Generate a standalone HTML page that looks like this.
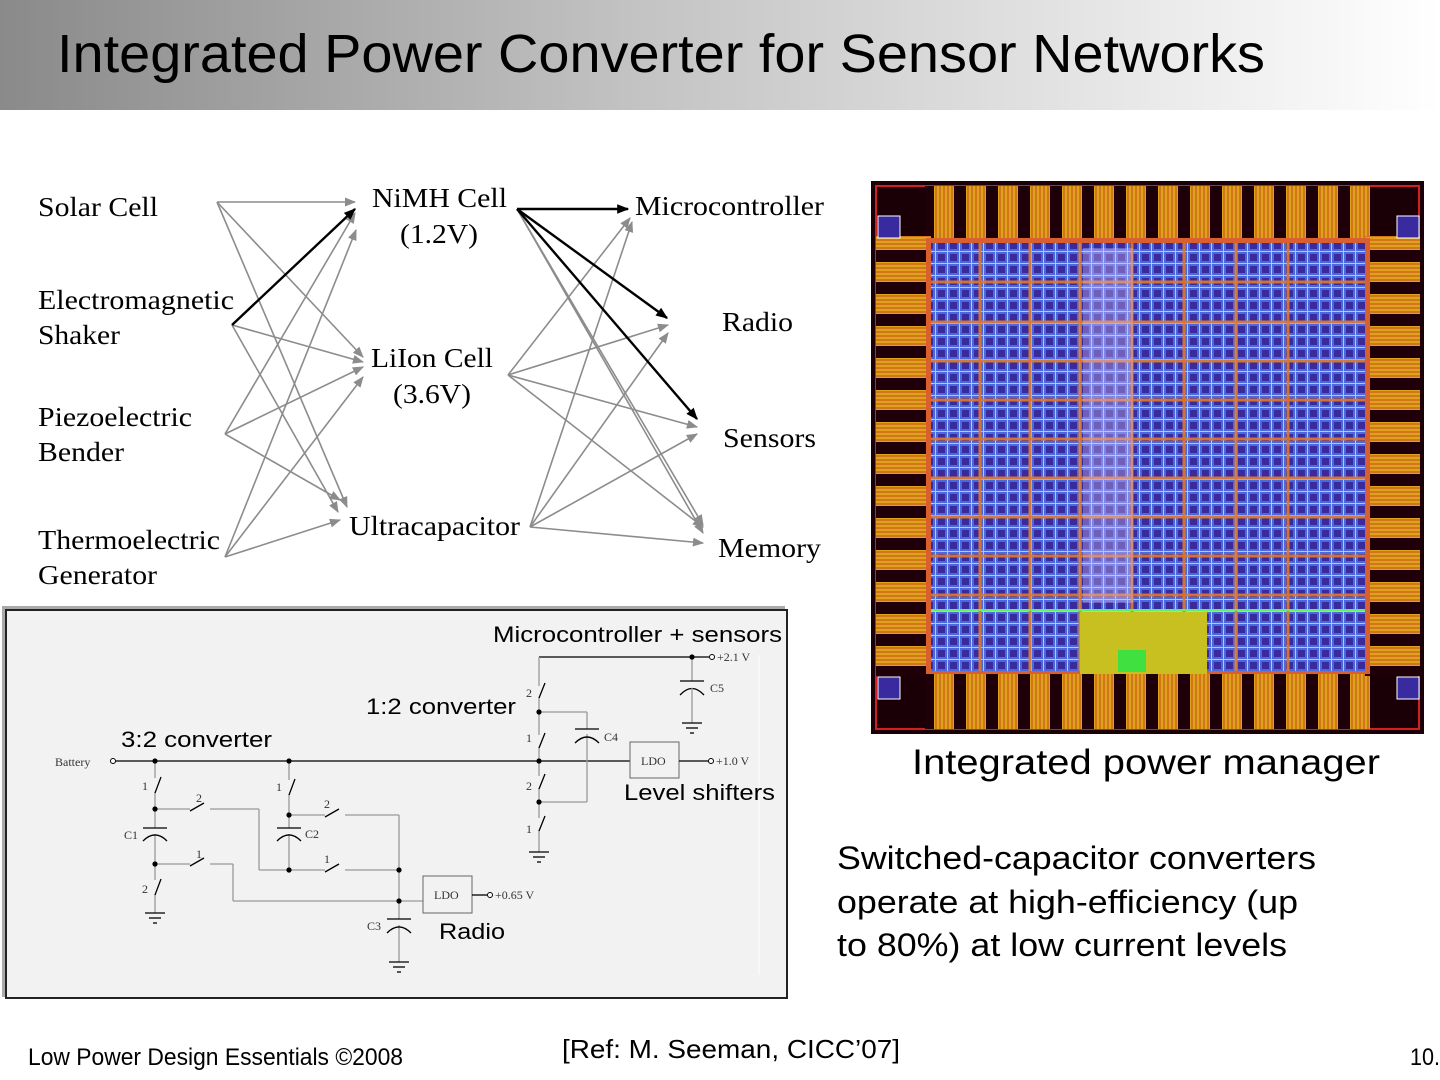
<!DOCTYPE html>
<html><head><meta charset="utf-8"><style>
html,body{margin:0;padding:0;background:#fff;}
svg{display:block}
.serif{font-family:"Liberation Serif",serif;font-size:27px;fill:#000}
.sans{font-family:"Liberation Sans",sans-serif;fill:#000}
.g{stroke:#8c8c8c;stroke-width:1.6;fill:none}
.b{stroke:#000;stroke-width:2.4;fill:none}
.w{stroke:#000;stroke-width:1.3;fill:none}
.wg{stroke:#999;stroke-width:1.3;fill:none}
.sm{font-family:"Liberation Serif",serif;font-size:12px;fill:#333}
</style></head><body>
<svg width="1440" height="1080" viewBox="0 0 1440 1080" xmlns="http://www.w3.org/2000/svg">
<defs>
<linearGradient id="hg" x1="0" x2="1" y1="0" y2="0">
<stop offset="0" stop-color="#8a8a8a"/><stop offset="0.45" stop-color="#c4c4c4"/><stop offset="1" stop-color="#ffffff"/>
</linearGradient>
<marker id="ag" viewBox="0 0 10 10" refX="9" refY="5" markerWidth="7" markerHeight="7" orient="auto"><path d="M0,1 L10,5 L0,9 z" fill="#8c8c8c"/></marker>
<marker id="ab" viewBox="0 0 10 10" refX="9" refY="5" markerWidth="5" markerHeight="5" orient="auto"><path d="M0,1 L10,5 L0,9 z" fill="#000"/></marker>
<pattern id="cells" width="12" height="12" patternUnits="userSpaceOnUse">
<rect width="12" height="12" fill="#4a68e0"/><rect x="2" y="2" width="7" height="7" fill="#3a2a9a"/><path d="M0 11.5H12M11.5 0V12" stroke="#9fd0ff" stroke-width="1"/>
</pattern>
<pattern id="pads" width="32" height="40" patternUnits="userSpaceOnUse">
<rect width="32" height="40" fill="#200008"/><rect x="6" y="0" width="20" height="40" fill="#e0a020"/><path d="M8 0V40M12 0V40M16 0V40M20 0V40M24 0V40" stroke="#c05010" stroke-width="1"/>
</pattern>
<pattern id="padsV" width="40" height="32" patternUnits="userSpaceOnUse">
<rect width="40" height="32" fill="#200008"/><rect x="0" y="6" width="40" height="20" fill="#e0a020"/><path d="M0 8H40M0 12H40M0 16H40M0 20H40M0 24H40" stroke="#c05010" stroke-width="1"/>
</pattern>
</defs>

<rect x="0" y="0" width="1440" height="110" fill="url(#hg)"/>
<text x="57" y="72" class="sans" font-size="54" textLength="1208" lengthAdjust="spacingAndGlyphs">Integrated Power Converter for Sensor Networks</text>

<text x="38" y="216" class="serif" textLength="120" lengthAdjust="spacingAndGlyphs">Solar Cell</text>
<text x="38" y="309" class="serif" textLength="196" lengthAdjust="spacingAndGlyphs">Electromagnetic</text>
<text x="38" y="344" class="serif" textLength="82" lengthAdjust="spacingAndGlyphs">Shaker</text>
<text x="38" y="426" class="serif" textLength="154" lengthAdjust="spacingAndGlyphs">Piezoelectric</text>
<text x="38" y="461" class="serif" textLength="86" lengthAdjust="spacingAndGlyphs">Bender</text>
<text x="38" y="549" class="serif" textLength="182" lengthAdjust="spacingAndGlyphs">Thermoelectric</text>
<text x="38" y="584" class="serif" textLength="119" lengthAdjust="spacingAndGlyphs">Generator</text>
<text x="372" y="207" class="serif" textLength="135" lengthAdjust="spacingAndGlyphs">NiMH Cell</text>
<text x="400" y="243" class="serif" textLength="78" lengthAdjust="spacingAndGlyphs">(1.2V)</text>
<text x="371" y="367" class="serif" textLength="122" lengthAdjust="spacingAndGlyphs">LiIon Cell</text>
<text x="393" y="403" class="serif" textLength="78" lengthAdjust="spacingAndGlyphs">(3.6V)</text>
<text x="349" y="535" class="serif" textLength="171" lengthAdjust="spacingAndGlyphs">Ultracapacitor</text>
<text x="635" y="215" class="serif" textLength="189" lengthAdjust="spacingAndGlyphs">Microcontroller</text>
<text x="722" y="331" class="serif" textLength="71" lengthAdjust="spacingAndGlyphs">Radio</text>
<text x="723" y="447" class="serif" textLength="93" lengthAdjust="spacingAndGlyphs">Sensors</text>
<text x="718" y="557" class="serif" textLength="103" lengthAdjust="spacingAndGlyphs">Memory</text>

<g class="g" marker-end="url(#ag)">
<line x1="217" y1="202" x2="355" y2="202"/>
<line x1="217" y1="202" x2="363" y2="357"/>
<line x1="217" y1="202" x2="347" y2="507"/>
<line x1="232" y1="325" x2="363" y2="362"/>
<line x1="232" y1="325" x2="338" y2="512"/>
<line x1="225" y1="434" x2="355" y2="213"/>
<line x1="225" y1="434" x2="363" y2="367"/>
<line x1="225" y1="434" x2="340" y2="500"/>
<line x1="225" y1="557" x2="356" y2="230"/>
<line x1="225" y1="557" x2="363" y2="377"/>
<line x1="225" y1="557" x2="340" y2="520"/>
</g>
<line x1="232" y1="325" x2="355" y2="209" class="b" marker-end="url(#ab)"/>
<g class="g" marker-end="url(#ag)">
<line x1="517" y1="209" x2="703" y2="525"/>
<line x1="517" y1="209" x2="703" y2="533"/>
<line x1="508" y1="375" x2="630" y2="218"/>
<line x1="508" y1="375" x2="668" y2="325"/>
<line x1="508" y1="375" x2="697" y2="427"/>
<line x1="508" y1="375" x2="703" y2="527"/>
<line x1="530" y1="527" x2="632" y2="222"/>
<line x1="530" y1="527" x2="668" y2="333"/>
<line x1="530" y1="527" x2="697" y2="434"/>
<line x1="530" y1="527" x2="703" y2="543"/>
</g>
<g class="b" marker-end="url(#ab)">
<line x1="517" y1="209" x2="628" y2="209"/>
<line x1="517" y1="209" x2="667" y2="318"/>
<line x1="517" y1="209" x2="697" y2="419"/>
</g>

<rect x="2" y="606" width="783" height="391" fill="#aaa"/>
<rect x="6" y="610" width="781" height="388" fill="#f2f2f2" stroke="#222" stroke-width="2"/>
<line x1="759" y1="655" x2="759" y2="975" stroke="#fff" stroke-width="1"/>

<text x="493" y="642" class="sans" font-size="22" textLength="289" lengthAdjust="spacingAndGlyphs">Microcontroller + sensors</text>
<text x="366" y="714" class="sans" font-size="22" textLength="150" lengthAdjust="spacingAndGlyphs">1:2 converter</text>
<text x="121" y="747" class="sans" font-size="22" textLength="151" lengthAdjust="spacingAndGlyphs">3:2 converter</text>
<text x="624" y="800" class="sans" font-size="22" textLength="151" lengthAdjust="spacingAndGlyphs">Level shifters</text>
<text x="439" y="939" class="sans" font-size="22" textLength="66" lengthAdjust="spacingAndGlyphs">Radio</text>

<text x="55" y="766" class="sm" font-size="11">Battery</text>
<circle cx="113" cy="761" r="2.5" fill="#fff" stroke="#000"/>
<line x1="116" y1="761" x2="630" y2="761" class="w"/>
<rect x="630" y="742" width="49" height="36" fill="#f2f2f2" stroke="#666"/>
<text x="641" y="765" class="sm">LDO</text>
<line x1="679" y1="761" x2="708" y2="761" class="w"/>
<circle cx="711" cy="761" r="2.5" fill="#fff" stroke="#000"/>
<text x="716" y="765" class="sm">+1.0 V</text>

<line x1="539" y1="657" x2="709" y2="657" class="w"/>
<circle cx="712" cy="657" r="2.5" fill="#fff" stroke="#000"/>
<text x="717" y="661" class="sm">+2.1 V</text>
<line x1="692" y1="657" x2="692" y2="681" class="wg"/>
<line x1="680" y1="681" x2="704" y2="681" class="w"/>
<path d="M680 695 Q692 682 704 695" class="w"/>
<line x1="692" y1="688" x2="692" y2="723" class="wg"/>
<line x1="682" y1="723" x2="702" y2="723" class="w"/><line x1="686" y1="728" x2="698" y2="728" class="w"/><line x1="690" y1="733" x2="694" y2="733" class="w"/>
<text x="710" y="692" class="sm">C5</text>

<g class="wg">
<line x1="539" y1="657" x2="539" y2="686"/><line x1="539" y1="697" x2="539" y2="712"/>
<line x1="539" y1="712" x2="539" y2="735"/><line x1="539" y1="747" x2="539" y2="761"/>
<line x1="539" y1="761" x2="539" y2="776"/><line x1="539" y1="788" x2="539" y2="802"/>
<line x1="539" y1="802" x2="539" y2="818"/><line x1="539" y1="830" x2="539" y2="852"/>
<line x1="539" y1="712" x2="587" y2="712"/><line x1="587" y1="712" x2="587" y2="729"/>
<line x1="587" y1="734" x2="587" y2="802"/><line x1="587" y1="802" x2="539" y2="802"/>
</g>
<g class="w">
<line x1="539" y1="698" x2="545" y2="683"/><line x1="539" y1="748" x2="545" y2="733"/>
<line x1="539" y1="789" x2="545" y2="774"/><line x1="539" y1="831" x2="545" y2="816"/>
<line x1="575" y1="729" x2="599" y2="729"/><path d="M575 743 Q587 731 599 743"/>
<line x1="529" y1="852" x2="549" y2="852"/><line x1="533" y1="857" x2="545" y2="857"/><line x1="537" y1="862" x2="541" y2="862"/>
</g>
<text x="526" y="697" class="sm">2</text><text x="526" y="742" class="sm">1</text><text x="526" y="790" class="sm">2</text><text x="526" y="833" class="sm">1</text>
<text x="604" y="741" class="sm">C4</text>
<g fill="#000"><circle cx="539" cy="712" r="2.6"/><circle cx="539" cy="761" r="2.6"/><circle cx="539" cy="802" r="2.6"/><circle cx="692" cy="657" r="2.6"/></g>

<g class="wg">
<line x1="155" y1="761" x2="155" y2="778"/><line x1="155" y1="792" x2="155" y2="828"/>
<line x1="155" y1="834" x2="155" y2="880"/><line x1="155" y1="894" x2="155" y2="913"/>
<line x1="155" y1="809" x2="190" y2="809"/><line x1="210" y1="809" x2="259" y2="809"/>
<line x1="259" y1="809" x2="259" y2="870"/><line x1="259" y1="870" x2="325" y2="870"/>
<line x1="345" y1="870" x2="399" y2="870"/>
<line x1="155" y1="864" x2="190" y2="864"/><line x1="210" y1="864" x2="233" y2="864"/>
<line x1="233" y1="864" x2="233" y2="901"/><line x1="233" y1="901" x2="423" y2="901"/>
</g>
<g class="w">
<line x1="155" y1="793" x2="161" y2="777"/><line x1="155" y1="895" x2="161" y2="879"/>
<line x1="190" y1="811" x2="204" y2="803"/><line x1="190" y1="866" x2="204" y2="858"/>
<line x1="143" y1="828" x2="167" y2="828"/><path d="M143 841 Q155 829 167 841"/>
<line x1="145" y1="913" x2="165" y2="913"/><line x1="149" y1="918" x2="161" y2="918"/><line x1="153" y1="923" x2="157" y2="923"/>
</g>
<text x="142" y="790" class="sm">1</text><text x="142" y="893" class="sm">2</text>
<text x="196" y="802" class="sm">2</text><text x="196" y="858" class="sm">1</text>
<text x="124" y="839" class="sm">C1</text>

<g class="wg">
<line x1="289" y1="761" x2="289" y2="780"/><line x1="289" y1="794" x2="289" y2="828"/>
<line x1="289" y1="834" x2="289" y2="870"/>
<line x1="289" y1="815" x2="325" y2="815"/><line x1="345" y1="815" x2="399" y2="815"/>
<line x1="399" y1="815" x2="399" y2="919"/><line x1="399" y1="925" x2="399" y2="962"/>
</g>
<g class="w">
<line x1="289" y1="795" x2="295" y2="779"/>
<line x1="325" y1="817" x2="339" y2="809"/><line x1="325" y1="872" x2="339" y2="864"/>
<line x1="277" y1="828" x2="301" y2="828"/><path d="M277 841 Q289 829 301 841"/>
<line x1="387" y1="919" x2="411" y2="919"/><path d="M387 933 Q399 921 411 933"/>
<line x1="389" y1="962" x2="409" y2="962"/><line x1="393" y1="967" x2="405" y2="967"/><line x1="397" y1="972" x2="401" y2="972"/>
</g>
<text x="276" y="791" class="sm">1</text><text x="324" y="808" class="sm">2</text><text x="324" y="863" class="sm">1</text>
<text x="305" y="838" class="sm">C2</text><text x="367" y="930" class="sm">C3</text>
<g fill="#000"><circle cx="155" cy="761" r="2.6"/><circle cx="289" cy="761" r="2.6"/><circle cx="155" cy="809" r="2.6"/><circle cx="155" cy="864" r="2.6"/><circle cx="289" cy="815" r="2.6"/><circle cx="289" cy="870" r="2.6"/><circle cx="399" cy="870" r="2.6"/><circle cx="399" cy="901" r="2.6"/></g>
<rect x="423" y="876" width="49" height="37" fill="#f2f2f2" stroke="#666"/>
<text x="434" y="899" class="sm">LDO</text>
<line x1="472" y1="895" x2="487" y2="895" class="w"/>
<circle cx="490" cy="895" r="2.5" fill="#fff" stroke="#000"/>
<text x="495" y="899" class="sm">+0.65 V</text>

<rect x="871" y="181" width="553" height="553" fill="#1a0006"/>
<rect x="876" y="186" width="543" height="543" fill="none" stroke="#d02020" stroke-width="2"/>
<rect x="925" y="186" width="445" height="55" fill="url(#pads)"/>
<rect x="925" y="674" width="445" height="55" fill="url(#pads)"/>
<rect x="876" y="236" width="55" height="440" fill="url(#padsV)"/>
<rect x="1365" y="236" width="55" height="440" fill="url(#padsV)"/>
<rect x="878" y="216" width="22" height="22" fill="#3a2aa0" stroke="#fff"/>
<rect x="1397" y="216" width="22" height="22" fill="#3a2aa0" stroke="#fff"/>
<rect x="878" y="677" width="22" height="22" fill="#3a2aa0" stroke="#fff"/>
<rect x="1397" y="677" width="22" height="22" fill="#3a2aa0" stroke="#fff"/>
<rect x="926" y="238" width="444" height="436" fill="#d86030"/>
<rect x="931" y="243" width="434" height="428" fill="url(#cells)"/>
<g stroke="#e07a30" stroke-width="3" opacity="0.9">
<line x1="931" y1="282" x2="1365" y2="282"/><line x1="931" y1="322" x2="1365" y2="322"/><line x1="931" y1="361" x2="1365" y2="361"/><line x1="931" y1="400" x2="1365" y2="400"/><line x1="931" y1="439" x2="1365" y2="439"/><line x1="931" y1="478" x2="1365" y2="478"/><line x1="931" y1="517" x2="1365" y2="517"/><line x1="931" y1="556" x2="1365" y2="556"/><line x1="931" y1="595" x2="1365" y2="595"/>
<line x1="980" y1="243" x2="980" y2="671"/><line x1="1030" y1="243" x2="1030" y2="671"/><line x1="1080" y1="243" x2="1080" y2="671"/><line x1="1132" y1="243" x2="1132" y2="671"/><line x1="1184" y1="243" x2="1184" y2="671"/><line x1="1236" y1="243" x2="1236" y2="671"/><line x1="1288" y1="243" x2="1288" y2="671"/>
</g>
<rect x="1083" y="248" width="50" height="355" fill="#d8c0f0" opacity="0.35"/>
<rect x="1080" y="612" width="127" height="62" fill="#c8c020"/>
<rect x="1118" y="650" width="28" height="22" fill="#40e040"/>
<line x1="931" y1="610" x2="1365" y2="610" stroke="#60f060" stroke-width="2"/>

<text x="912" y="774" class="sans" font-size="35" textLength="468" lengthAdjust="spacingAndGlyphs">Integrated power manager</text>
<text x="837" y="869" class="sans" font-size="32" textLength="479" lengthAdjust="spacingAndGlyphs">Switched-capacitor converters</text>
<text x="837" y="913" class="sans" font-size="32" textLength="461" lengthAdjust="spacingAndGlyphs">operate at high-efficiency (up</text>
<text x="837" y="956" class="sans" font-size="32" textLength="450" lengthAdjust="spacingAndGlyphs">to 80%) at low current levels</text>

<text x="28" y="1065" class="sans" font-size="24" textLength="375" lengthAdjust="spacingAndGlyphs">Low Power Design Essentials ©2008</text>
<text x="562" y="1058" class="sans" font-size="26" textLength="338" lengthAdjust="spacingAndGlyphs">[Ref: M. Seeman, CICC’07]</text>
<text x="1410" y="1065" class="sans" font-size="24" textLength="30" lengthAdjust="spacingAndGlyphs">10.</text>
</svg>
</body></html>
